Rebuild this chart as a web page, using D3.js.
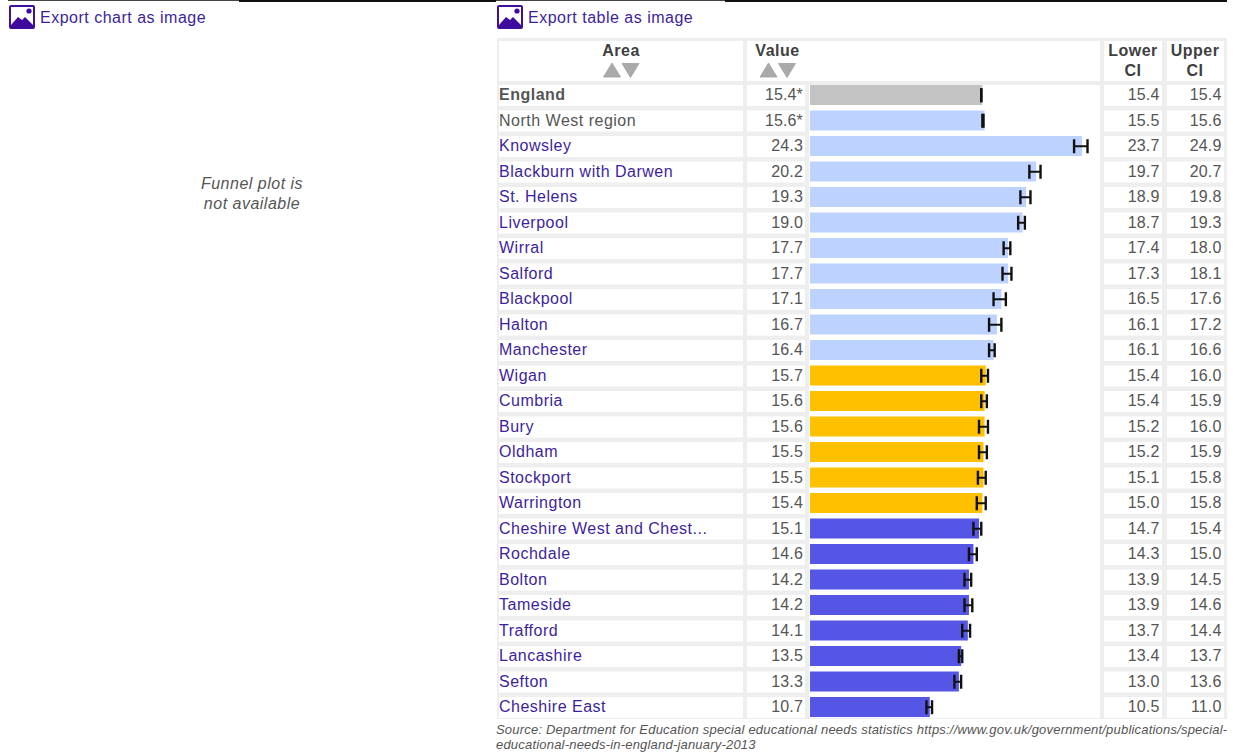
<!DOCTYPE html>
<html lang="en">
  <head>
    <meta charset="UTF-8" />
    <title>Area table</title>
    <style>
      html, body { margin: 0; padding: 0; background: #fff; overflow: hidden; }
      svg { display: block; font-family: "Liberation Sans", Arial, sans-serif; }
    </style>
  </head>
  <body>
    <svg id="chart" width="1233" height="753"></svg>
    <script src="https://d3js.org/d3.v7.min.js"></script>
    <script>
      const areas = ["England", "North West region", "Knowsley", "Blackburn with Darwen", "St. Helens", "Liverpool", "Wirral", "Salford", "Blackpool", "Halton", "Manchester", "Wigan", "Cumbria", "Bury", "Oldham", "Stockport", "Warrington", "Cheshire West and Chest...", "Rochdale", "Bolton", "Tameside", "Trafford", "Lancashire", "Sefton", "Cheshire East"];
      const values = [15.4, 15.6, 24.3, 20.2, 19.3, 19.0, 17.7, 17.7, 17.1, 16.7, 16.4, 15.7, 15.6, 15.6, 15.5, 15.5, 15.4, 15.1, 14.6, 14.2, 14.2, 14.1, 13.5, 13.3, 10.7];
      const lowerCI = [15.4, 15.5, 23.7, 19.7, 18.9, 18.7, 17.4, 17.3, 16.5, 16.1, 16.1, 15.4, 15.4, 15.2, 15.2, 15.1, 15.0, 14.7, 14.3, 13.9, 13.9, 13.7, 13.4, 13.0, 10.5];
      const upperCI = [15.4, 15.6, 24.9, 20.7, 19.8, 19.3, 18.0, 18.1, 17.6, 17.2, 16.6, 16.0, 15.9, 16.0, 15.9, 15.8, 15.8, 15.4, 15.0, 14.5, 14.6, 14.4, 13.7, 13.6, 11.0];
      // comparison group per row: benchmark, higher, similar, lower
      const groups = ["england", "higher", "higher", "higher", "higher", "higher", "higher", "higher", "higher", "higher", "higher", "similar", "similar", "similar", "similar", "similar", "similar", "lower", "lower", "lower", "lower", "lower", "lower", "lower", "lower"];
      const starred = ["England", "North West region"];
      const groupColours = { england: "#c3c3c3", higher: "#bed2ff", similar: "#ffc000", lower: "#5555e6" };

      const svg = d3.select("#chart");
      const linkColour = "#3d1f9e";
      const textColour = "#555555";

      const x = d3.scaleLinear().domain([0, 24.3]).range([810, 1082]);
      // the whiskers sit a touch left of the bar ends in the original
      const ciX = d3.scaleLinear().domain([0, 24.3]).range([809, 1080.8]);
      const y = d3.scaleBand().domain(d3.range(areas.length)).range([82.5, 720]);
      const rowCentre = (i) => y(i) + y.bandwidth() / 2;

      // top rules
      [[8, 239, "#444", 1], [239, 496, "#111", 2], [496, 725, "#444", 1], [725, 1227, "#111", 2]].forEach((r) => {
        svg.append("rect").attr("x", r[0]).attr("y", 0).attr("width", r[1] - r[0]).attr("height", r[3]).attr("fill", r[2]);
      });

      function exportLink(left, label) {
        const g = svg.append("g").attr("transform", `translate(${left},5)`);
        g.append("rect").attr("x", 1).attr("y", 1).attr("width", 24).attr("height", 22).attr("rx", 1).attr("fill", "#fff").attr("stroke", "#3f0f9e").attr("stroke-width", 2);
        g.append("path").attr("d", "M2 23 L2 20 L9 12 L13 15 L16 12 L24 20 L24 23 Z").attr("fill", "#3f0a9e");
        g.append("circle").attr("cx", 20).attr("cy", 6).attr("r", 2.6).attr("fill", "#3f0a9e");
        svg.append("text").attr("x", left + 31).attr("y", 22.5).attr("font-size", 16).attr("letter-spacing", 0.5).attr("fill", linkColour).text(label);
      }
      exportLink(9, "Export chart as image");
      exportLink(497, "Export table as image");

      svg.append("text").attr("font-style", "italic").attr("font-size", 16).attr("letter-spacing", 0.5).attr("fill", "#555").attr("text-anchor", "middle")
        .selectAll("tspan").data(["Funnel plot is", "not available"]).join("tspan")
        .attr("x", 252).attr("y", (d, i) => 189 + i * 20).text((d) => d);

      // table background and column cells
      svg.append("rect").attr("x", 497).attr("y", 38).attr("width", 730).attr("height", 681).attr("fill", "#eeeeee");

      const columns = [[499, 743], [747, 805], [1104, 1162], [1167, 1224]];
      [[499, 743], [747, 1100], [1104, 1162], [1167, 1224]].forEach((c) => {
        svg.append("rect").attr("x", c[0]).attr("y", 41).attr("width", c[1] - c[0]).attr("height", 40).attr("fill", "#fff");
      });
      // bar column has no gaps between its rows
      svg.append("rect").attr("x", 809).attr("y", 85).attr("width", 291).attr("height", 633).attr("fill", "#fff");

      const rows = svg.selectAll("g.row").data(areas).join("g").attr("class", "row");
      columns.forEach((c) => {
        rows.append("rect").attr("x", c[0]).attr("y", (d, i) => y(i) + 2.5).attr("width", c[1] - c[0]).attr("height", 21).attr("fill", "#fff");
      });

      // header
      function sortArrows(cx) {
        const g = svg.append("g").attr("fill", "#aaaaaa").attr("stroke", "#a0a0a0").attr("stroke-width", 0.8);
        g.append("path").attr("d", `M${cx - 17.5} 77 l8.5 -14 l8.5 14 Z`);
        g.append("path").attr("d", `M${cx + 1} 63.5 l17 0 l-8.5 14 Z`);
      }
      const head = svg.append("g").attr("font-weight", "bold").attr("font-size", 16).attr("letter-spacing", 0.5).attr("fill", "#3f3f3f").attr("text-anchor", "middle");
      head.append("text").attr("x", 621).attr("y", 56).text("Area");
      head.append("text").attr("x", 777.5).attr("y", 56).text("Value");
      sortArrows(621);
      sortArrows(777.5);
      [["Lower", "CI", 1133], ["Upper", "CI", 1195]].forEach((h) => {
        head.append("text").attr("x", h[2]).attr("y", 56).text(h[0]);
        head.append("text").attr("x", h[2]).attr("y", 76).text(h[1]);
      });

      // area names: benchmarks are plain, local areas are links
      rows.append("text").attr("x", 499).attr("y", (d, i) => rowCentre(i) + 5).attr("font-size", 16).attr("letter-spacing", 0.5)
        .attr("font-weight", (d) => (d === "England" ? "bold" : null))
        .attr("fill", (d) => (starred.includes(d) ? textColour : linkColour))
        .text((d) => d);

      const numberCell = (right, read) => rows.append("text").attr("x", right).attr("y", (d, i) => rowCentre(i) + 5)
        .attr("font-size", 16).attr("letter-spacing", 0.15).attr("text-anchor", "end").attr("fill", textColour).text(read);
      numberCell(803, (d, i) => values[i].toFixed(1) + (starred.includes(d) ? "*" : ""));
      numberCell(1159.5, (d, i) => lowerCI[i].toFixed(1));
      numberCell(1221.5, (d, i) => upperCI[i].toFixed(1));

      // bars
      rows.append("rect").attr("x", x(0)).attr("y", (d, i) => y(i) + 2.5).attr("width", (d, i) => x(values[i]) - x(0)).attr("height", 20)
        .attr("fill", (d, i) => groupColours[groups[i]]);

      // confidence interval whiskers
      const ci = rows.append("g").attr("stroke", "#111").attr("stroke-width", 2.4).attr("fill", "none");
      ci.append("line").attr("x1", (d, i) => ciX(lowerCI[i])).attr("x2", (d, i) => ciX(upperCI[i])).attr("y1", (d, i) => rowCentre(i)).attr("y2", (d, i) => rowCentre(i)).attr("stroke-width", 2);
      [lowerCI, upperCI].forEach((ends) => {
        ci.append("line").attr("x1", (d, i) => ciX(ends[i])).attr("x2", (d, i) => ciX(ends[i])).attr("y1", (d, i) => rowCentre(i) - 7).attr("y2", (d, i) => rowCentre(i) + 7);
      });

      svg.append("text").attr("font-style", "italic").attr("font-size", 13).attr("letter-spacing", 0.2).attr("fill", "#555")
        .selectAll("tspan").data(["Source: Department for Education special educational needs statistics https://www.gov.uk/government/publications/special-", "educational-needs-in-england-january-2013"]).join("tspan")
        .attr("x", 496).attr("y", (d, i) => 734 + i * 15).text((d) => d);
    </script>
  </body>
</html>
